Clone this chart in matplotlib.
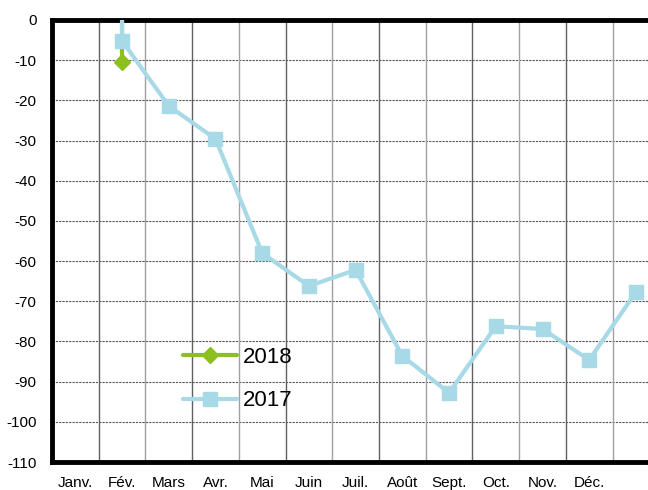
import matplotlib
matplotlib.use("Agg")
import matplotlib.pyplot as plt
from matplotlib.lines import Line2D

months = ["Janv.", "Fév.", "Mars", "Avr.", "Mai", "Juin", "Juil.", "Août",
          "Sept.", "Oct.", "Nov.", "Déc.", ""]
vals_2017 = [None, -5.2, -21.4, -29.6, -58.0, -66.2, -62.2, -83.6, -92.8,
             -76.2, -76.9, -84.6, -67.7]
vals_2018 = [None, -10.5]
lead_2017 = 5   # line segment entering from above the plot at Fév.
lead_2018 = 5
yticks = list(range(0, -120, -10))

narrow = ["Liberation Sans Narrow", "Liberation Sans", "DejaVu Sans"]
regular = ["Liberation Sans", "Arial", "DejaVu Sans"]

fig = plt.figure(figsize=(6.48, 4.90), dpi=100)
ax = fig.add_axes([52/648, 28/490, 654/648, 442/490])

blue = "#A7D9E7"
green = "#8DBF1E"

def series(vals, lead):
    xs, ys = [], []
    first = True
    for i, v in enumerate(vals):
        if v is None:
            continue
        if first:
            xs.append(i); ys.append(lead); first = False
        xs.append(i); ys.append(v)
    return xs, ys

x18, y18 = series(vals_2018, lead_2018)
x17, y17 = series(vals_2017, lead_2017)

ax.plot(x18, y18, color=green, lw=3, solid_capstyle="round", zorder=3)
ax.plot(x18[1:], y18[1:], color=green, lw=0, marker="D", ms=8, zorder=3)
ax.plot(x17, y17, color=blue, lw=3, solid_capstyle="round", zorder=4)
ax.plot(x17[1:], y17[1:], color=blue, lw=0, marker="s", ms=10, zorder=4)

h18 = Line2D([], [], color=green, lw=3, marker="D", ms=8, solid_capstyle="round")
h17 = Line2D([], [], color=blue, lw=3, marker="s", ms=10, solid_capstyle="round")
leg = ax.legend([h18, h17], ["2018", "2017"], loc="upper left",
                bbox_to_anchor=(0.17, 0.305), frameon=False, handlelength=2.4,
                handletextpad=0.3, labelspacing=1.0,
                prop={"family": narrow, "size": 16})

ax.set_xlim(-0.5, 13.5)
ax.set_ylim(-110, 0)
ax.set_yticks(yticks)
ax.set_yticklabels([str(t) for t in yticks], fontfamily=regular, fontsize=11)
ax.set_xticks(range(len(months)))
ax.set_xticklabels(months, fontfamily=narrow, fontsize=11)
ax.tick_params(axis="both", length=0)
ax.tick_params(axis="x", pad=10)
ax.tick_params(axis="y", pad=11)

for y in yticks[1:-1]:
    ax.axhline(y, color="#555555", lw=0.8, ls=(0, (2, 1)), zorder=1)
for i in range(1, 14):
    ax.axvline(i - 0.5, color="#606060" if i % 2 else "#a0a0a0", lw=1.0, zorder=1)

for s in ["left", "bottom", "top"]:
    ax.spines[s].set_linewidth(3.5)
    ax.spines[s].set_color("black")
ax.spines["right"].set_visible(False)

fig.savefig("out.png", dpi=100)
